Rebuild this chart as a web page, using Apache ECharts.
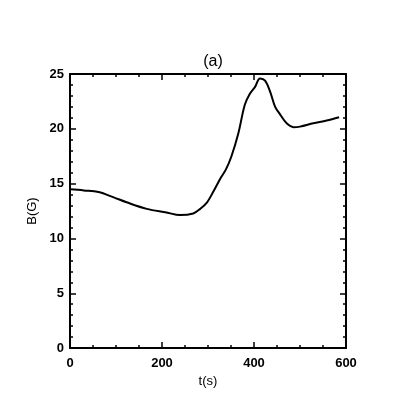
<!DOCTYPE html>
<html>
<head>
<meta charset="utf-8">
<script src="https://cdn.jsdelivr.net/npm/echarts@6/dist/echarts.min.js"></script>
<style>
html, body { margin: 0; padding: 0; background: #fff; }
#main { width: 393px; height: 393px; }
</style>
</head>
<body>
<div id="main"></div>
<script>
// time (s) and field strength (G)
var tValues = [0, 30, 62, 95, 123, 167, 210, 239, 268, 283, 298, 312, 326, 339, 351, 366, 380, 391, 402, 413, 424, 435, 446, 457, 471, 486, 500, 529, 558, 585];
var bValues = [14.48, 14.38, 14.24, 13.75, 13.3, 12.7, 12.37, 12.13, 12.28, 12.7, 13.3, 14.3, 15.4, 16.3, 17.5, 19.6, 22.2, 23.2, 23.8, 24.6, 24.4, 23.4, 22.0, 21.3, 20.5, 20.15, 20.2, 20.5, 20.75, 21.05];

var myChart = echarts.init(document.getElementById('main'));
var font = 'Liberation Sans';

var points = tValues.map(function (t, i) {
    return [t, bValues[i]];
});

function frameAxis(opts, split) {
    return Object.assign({
        type: 'value',
        axisLine: { show: true, onZero: false, lineStyle: { color: '#000', width: 2 } },
        axisTick: { show: true, inside: true, length: 6, lineStyle: { color: '#000', width: 1.5 } },
        minorTick: { show: true, splitNumber: split, length: 3, lineStyle: { color: '#000', width: 1.5 } },
        splitLine: { show: false },
        axisLabel: { show: false }
    }, opts);
}

var labelStyle = { fontFamily: font, fontSize: 13, fontWeight: 'bold', color: '#000' };
var nameStyle = { fontFamily: font, fontSize: 13, color: '#000' };

option = {
    animation: false,
    backgroundColor: '#fff',
    title: {
        text: '(a)',
        left: 208,
        top: 49,
        textAlign: 'center',
        textStyle: { fontFamily: font, fontWeight: 'normal', fontSize: 16, color: '#000' }
    },
    grid: { left: 70, top: 74, width: 276, height: 276 },
    xAxis: [
        frameAxis({
            min: 0, max: 600, interval: 200, position: 'bottom',
            name: 't(s)', nameLocation: 'middle', nameGap: 24, nameTextStyle: nameStyle,
            axisLabel: Object.assign({ show: true, margin: 9 }, labelStyle)
        }, 4),
        frameAxis({ min: 0, max: 600, interval: 200, position: 'top' }, 4)
    ],
    yAxis: [
        frameAxis({
            min: 0, max: 25, interval: 5, position: 'left',
            name: 'B(G)', nameLocation: 'middle', nameGap: 25, nameRotate: 90, nameTextStyle: nameStyle,
            axisLabel: Object.assign({ show: true, margin: 6 }, labelStyle)
        }, 5),
        frameAxis({ min: 0, max: 25, interval: 5, position: 'right' }, 5)
    ],
    series: [{
        type: 'line',
        xAxisIndex: 0,
        yAxisIndex: 0,
        data: points,
        smooth: 0.35,
        showSymbol: false,
        lineStyle: { color: '#000', width: 2 }
    }]
};
myChart.setOption(option);
</script>
</body>
</html>
